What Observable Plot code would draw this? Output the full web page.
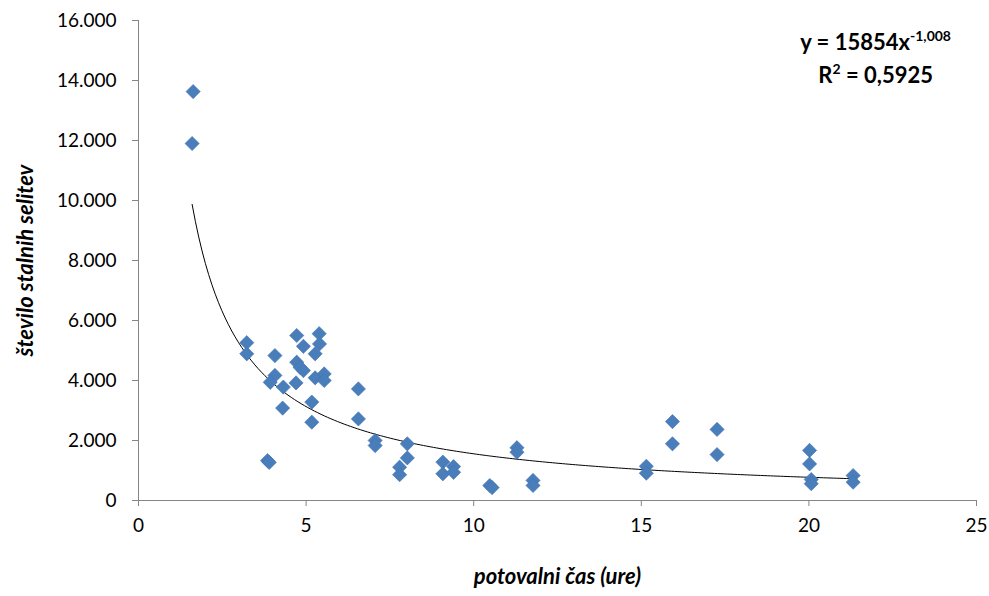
<!DOCTYPE html>
<html>
<head>
<meta charset="utf-8">
<script src="https://cdn.jsdelivr.net/npm/d3@7"></script>
<script src="https://cdn.jsdelivr.net/npm/@observablehq/plot@0.6"></script>
<style>
  html, body { margin: 0; padding: 0; background: #fff; }
  #wrap { position: relative; width: 989px; height: 596px; }
  #eq { position: absolute; right: 38px; top: 25px; font-family: Lato, "Open Sans", sans-serif; font-weight: bold; font-size: 22px; color: #000; text-align: center; line-height: 33px; }
  #eq sup { font-size: 14px; vertical-align: 9px; line-height: 0; }
</style>
</head>
<body>
<div id="wrap">
  <div id="eq">y = 15854x<sup>-1,008</sup><br>R<sup>2</sup> = 0,5925</div>
</div>
<script>
// travel time (hours)
const travelTime = [
  1.63, 1.60,
  3.23, 3.23, 4.07, 4.72, 5.39, 4.92, 5.40, 5.27, 4.72, 4.82, 4.92, 4.07, 3.93, 4.32, 4.70, 5.27, 5.54, 5.54,
  6.56, 4.30, 5.17, 5.17, 6.56, 3.85, 3.90,
  7.06, 7.06, 8.02, 8.02, 7.79, 7.79, 9.08, 9.08, 9.40, 9.40, 10.48, 10.55, 11.29, 11.29, 11.77, 11.77,
  15.15, 15.15, 15.93, 15.93, 17.26, 17.26, 20.02, 20.02, 20.07, 20.07, 21.32, 21.32
];
// number of permanent migrations
const migrations = [
  13630, 11900,
  5260, 4890, 4830, 5500, 5560, 5140, 5220, 4890, 4610, 4440, 4330, 4170, 3940, 3780, 3920, 4090, 4220, 4000,
  3720, 3080, 3280, 2610, 2720, 1330, 1270,
  2000, 1830, 1890, 1420, 1110, 860, 1280, 890, 1130, 940, 500, 430, 1760, 1610, 670, 500,
  1140, 910, 2630, 1890, 2370, 1530, 1670, 1220, 700, 560, 830, 610
];
const xTicks = [0, 5, 10, 15, 20, 25];
const yTicks = [0, 2000, 4000, 6000, 8000, 10000, 12000, 14000, 16000];
// trendline: y = a * x^b (from the chart's equation)
const trendA = 15854, trendB = -1.008;
const trendStart = 1.6, trendEnd = 21.32;

const points = travelTime.map((x, i) => ({x, y: migrations[i]}));
const trend = d3.range(0, 201).map(i => {
  const x = trendStart + (trendEnd - trendStart) * i / 200;
  return {x, y: trendA * Math.pow(x, trendB)};
});
const fmt = d => d3.format(",")(d).replace(/,/g, ".");

const chart = Plot.plot({
  width: 989,
  height: 596,
  marginLeft: 138,
  marginRight: 13,
  marginTop: 20,
  marginBottom: 96,
  style: {fontFamily: "Lato, 'Open Sans', sans-serif", fontSize: "19px", color: "#000", background: "#fff"},
  x: {domain: [0, 25]},
  y: {domain: [0, 16000]},
  marks: [
    Plot.ruleX([0], {stroke: "#868686", strokeWidth: 1}),
    Plot.ruleY([0], {stroke: "#868686", strokeWidth: 1}),
    Plot.axisX({ticks: xTicks, tickSize: 6, tickPadding: 12, stroke: "#868686", fill: "#000", label: null}),
    Plot.axisY({ticks: yTicks, tickSize: 6, tickPadding: 16, tickFormat: fmt, stroke: "#868686", fill: "#000", label: null}),
    Plot.axisX({ticks: [], label: "potovalni čas (ure)", labelAnchor: "center", labelArrow: "none", labelOffset: 83, fontSize: 22, fontWeight: "bold", fontStyle: "italic"}),
    Plot.axisY({ticks: [], label: "število stalnih selitev", labelAnchor: "center", labelArrow: "none", labelOffset: 121, fontSize: 22, fontWeight: "bold", fontStyle: "italic"}),
    Plot.line(trend, {x: "x", y: "y", stroke: "#000", strokeWidth: 1, curve: "linear"}),
    Plot.dot(points, {x: "x", y: "y", symbol: "diamond2", r: 6.4, fill: "#4A7EBB", stroke: "#3F72B0", strokeWidth: 0.6})
  ]
});
document.getElementById("wrap").prepend(chart);
</script>
</body>
</html>
